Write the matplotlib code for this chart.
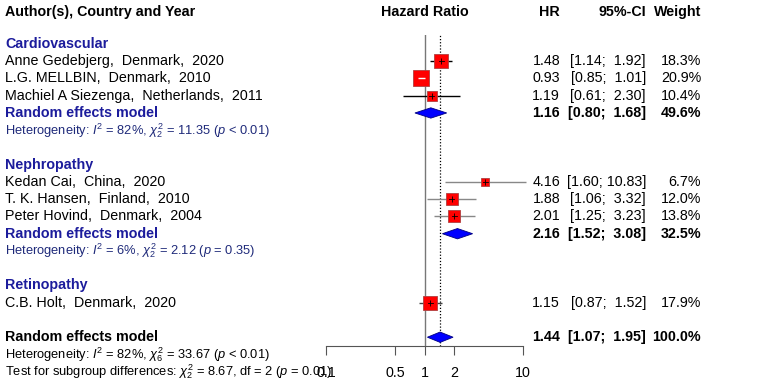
import numpy as np
import matplotlib.pyplot as plt
from matplotlib.transforms import blended_transform_factory

plt.rcParams["font.family"] = ["Liberation Sans", "DejaVu Sans"]
plt.rcParams["mathtext.fontset"] = "custom"
plt.rcParams["mathtext.rm"] = "Liberation Sans"
plt.rcParams["mathtext.it"] = "Liberation Sans:italic"
plt.rcParams["mathtext.bf"] = "Liberation Sans:bold"

# ---- data ----
groups = ["Cardiovascular", "Nephropathy", "Retinopathy"]
studies = ["Anne Gedebjerg,  Denmark,  2020",
           "L.G. MELLBIN,  Denmark,  2010",
           "Machiel A Siezenga,  Netherlands,  2011",
           "Kedan Cai,  China,  2020",
           "T. K. Hansen,  Finland,  2010",
           "Peter Hovind,  Denmark,  2004",
           "C.B. Holt,  Denmark,  2020"]
study_group = [0, 0, 0, 1, 1, 1, 2]
hr = [1.48, 0.93, 1.19, 4.16, 1.88, 2.01, 1.15]
ci_lo = [1.14, 0.85, 0.61, 1.60, 1.06, 1.25, 0.87]
ci_hi = [1.92, 1.01, 2.30, 10.83, 3.32, 3.23, 1.52]
weight = [18.3, 20.9, 10.4, 6.7, 12.0, 13.8, 17.9]

# subgroup random effects (None for single-study group)
sub_hr = [1.16, 2.16, None]
sub_lo = [0.80, 1.52, None]
sub_hi = [1.68, 3.08, None]
sub_w = [49.6, 32.5, None]
sub_het = [r"Heterogeneity: $I^2$ = 82%, $\chi^2_2$ = 11.35 ($p$ < 0.01)",
           r"Heterogeneity: $I^2$ = 6%, $\chi^2_2$ = 2.12 ($p$ = 0.35)",
           None]

overall_hr, overall_lo, overall_hi, overall_w = 1.44, 1.07, 1.95, 100.0
overall_het = r"Heterogeneity: $I^2$ = 82%, $\chi^2_6$ = 33.67 ($p$ < 0.01)"
subgroup_test = r"Test for subgroup differences: $\chi^2_2$ = 8.67, df = 2 ($p$ = 0.01)"

xticks = [0.1, 0.5, 1, 2, 10]
xticklabels = ["0.1", "0.5", "1", "2", "10"]

# ---- layout ----
W, H = 775, 383
GROUP_COL = "#1c1c9c"
HET_COL = "#1f2a7a"
line_cols = ["black", "black", "black", "#888888", "#888888", "#888888", "#444444"]
FS = 10.3
FS_HET = 9.3

fig = plt.figure(figsize=(W / 100, H / 100), dpi=100)
ax = fig.add_axes([326 / W, 1 - 346 / H, 197 / W, (346 - 35) / H])
ax.set_xscale("log")
ax.set_xlim(0.1, 10)
ax.set_ylim(17.51, -0.52)

tr = blended_transform_factory(fig.transFigure, ax.transData)
X_LEFT = 5 / W
X_HR = 560 / W
X_CI = 646 / W
X_W = 701 / W


def ci_text(lo, hi):
    return f"[{lo:.2f}; {hi:5.2f}]"


def put_cols(row, h, lo, hi, w, bold=False):
    fw = "bold" if bold else "normal"
    ax.text(X_HR, row, f"{h:.2f}", transform=tr, ha="right", va="center", fontsize=FS, fontweight=fw)
    ax.text(X_CI, row, ci_text(lo, hi), transform=tr, ha="right", va="center", fontsize=FS, fontweight=fw)
    ax.text(X_W, row, f"{w:.1f}%", transform=tr, ha="right", va="center", fontsize=FS, fontweight=fw)


def diamond(row, h, lo, hi):
    dh = 0.3
    ax.fill([lo, h, hi, h], [row, row - dh, row, row + dh], facecolor="#0000ff",
            edgecolor="#000080", lw=0.6, zorder=4, clip_on=False)


# header
hdr = -1.85
ax.text(X_LEFT, hdr, "Author(s), Country and Year", transform=tr, ha="left", va="center",
        fontsize=FS, fontweight="bold")
ax.text(1, hdr, "Hazard Ratio", ha="center", va="center", fontsize=FS, fontweight="bold")
ax.text(X_HR, hdr, "HR", transform=tr, ha="right", va="center", fontsize=FS, fontweight="bold")
ax.text(X_CI, hdr, "95%-CI", transform=tr, ha="right", va="center", fontsize=FS, fontweight="bold")
ax.text(X_W, hdr, "Weight", transform=tr, ha="right", va="center", fontsize=FS, fontweight="bold")

# reference lines
ax.axvline(1, color="#777777", lw=1.0, zorder=1)
ax.axvline(overall_hr, color="black", lw=0.9, ls=(0, (1, 1.5)), zorder=1)

row = 0
for g, gname in enumerate(groups):
    ax.text(X_LEFT, row, gname, transform=tr, ha="left", va="center", fontsize=FS,
            fontweight="bold", color=GROUP_COL)
    row += 1
    for i in [k for k, sg in enumerate(study_group) if sg == g]:
        ax.text(X_LEFT, row, studies[i], transform=tr, ha="left", va="center", fontsize=FS)
        side = 3.3 * np.sqrt(weight[i]) * 0.72
        ax.plot([hr[i]], [row], marker="s", ms=side, mfc="#ff0000", mec="#b04040",
                mew=0.6, ls="none", zorder=3)
        inside = side / 0.72 / 2
        # CI narrower than the box -> drawn white on top
        x_px = lambda v: 98 * np.log10(v)
        narrow = (x_px(hr[i]) - x_px(ci_lo[i]) < inside) and (x_px(ci_hi[i]) - x_px(hr[i]) < inside)
        lc = "white" if narrow else line_cols[i]
        ax.plot([ci_lo[i], ci_hi[i]], [row, row], color=lc, lw=1.0, zorder=4 if narrow else 2,
                clip_on=False, solid_capstyle="butt")
        if not narrow:
            ax.plot([max(ci_lo[i], hr[i] / 1.06), min(ci_hi[i], hr[i] * 1.06)], [row, row],
                    color="black", lw=0.6, zorder=4)
            ax.plot([hr[i]], [row], marker="|", ms=4, mec="black", mew=0.6, zorder=4)
        put_cols(row, hr[i], ci_lo[i], ci_hi[i], weight[i])
        row += 1
    if sub_hr[g] is not None:
        ax.text(X_LEFT, row, "Random effects model", transform=tr, ha="left", va="center",
                fontsize=FS, fontweight="bold", color=GROUP_COL)
        diamond(row, sub_hr[g], sub_lo[g], sub_hi[g])
        put_cols(row, sub_hr[g], sub_lo[g], sub_hi[g], sub_w[g], bold=True)
        row += 1
        ax.text(X_LEFT, row, sub_het[g], transform=tr, ha="left", va="center",
                fontsize=FS_HET, color=HET_COL)
        row += 2
    else:
        row += 1

ax.text(X_LEFT, row, "Random effects model", transform=tr, ha="left", va="center",
        fontsize=FS, fontweight="bold")
diamond(row, overall_hr, overall_lo, overall_hi)
put_cols(row, overall_hr, overall_lo, overall_hi, overall_w, bold=True)
ax.text(X_LEFT, row + 1, overall_het, transform=tr, ha="left", va="center", fontsize=FS_HET)
ax.text(X_LEFT, row + 2, subgroup_test, transform=tr, ha="left", va="center", fontsize=FS_HET)

# axis
for s in ["top", "left", "right"]:
    ax.spines[s].set_visible(False)
ax.spines["bottom"].set_color("#555555")
ax.set_yticks([])
ax.set_xticks(xticks)
ax.set_xticklabels(xticklabels)
ax.xaxis.set_minor_locator(plt.NullLocator())
ax.tick_params(axis="x", length=6.5, width=0.8, color="#555555", pad=8, labelsize=FS)

fig.savefig("out.png", dpi=100)
